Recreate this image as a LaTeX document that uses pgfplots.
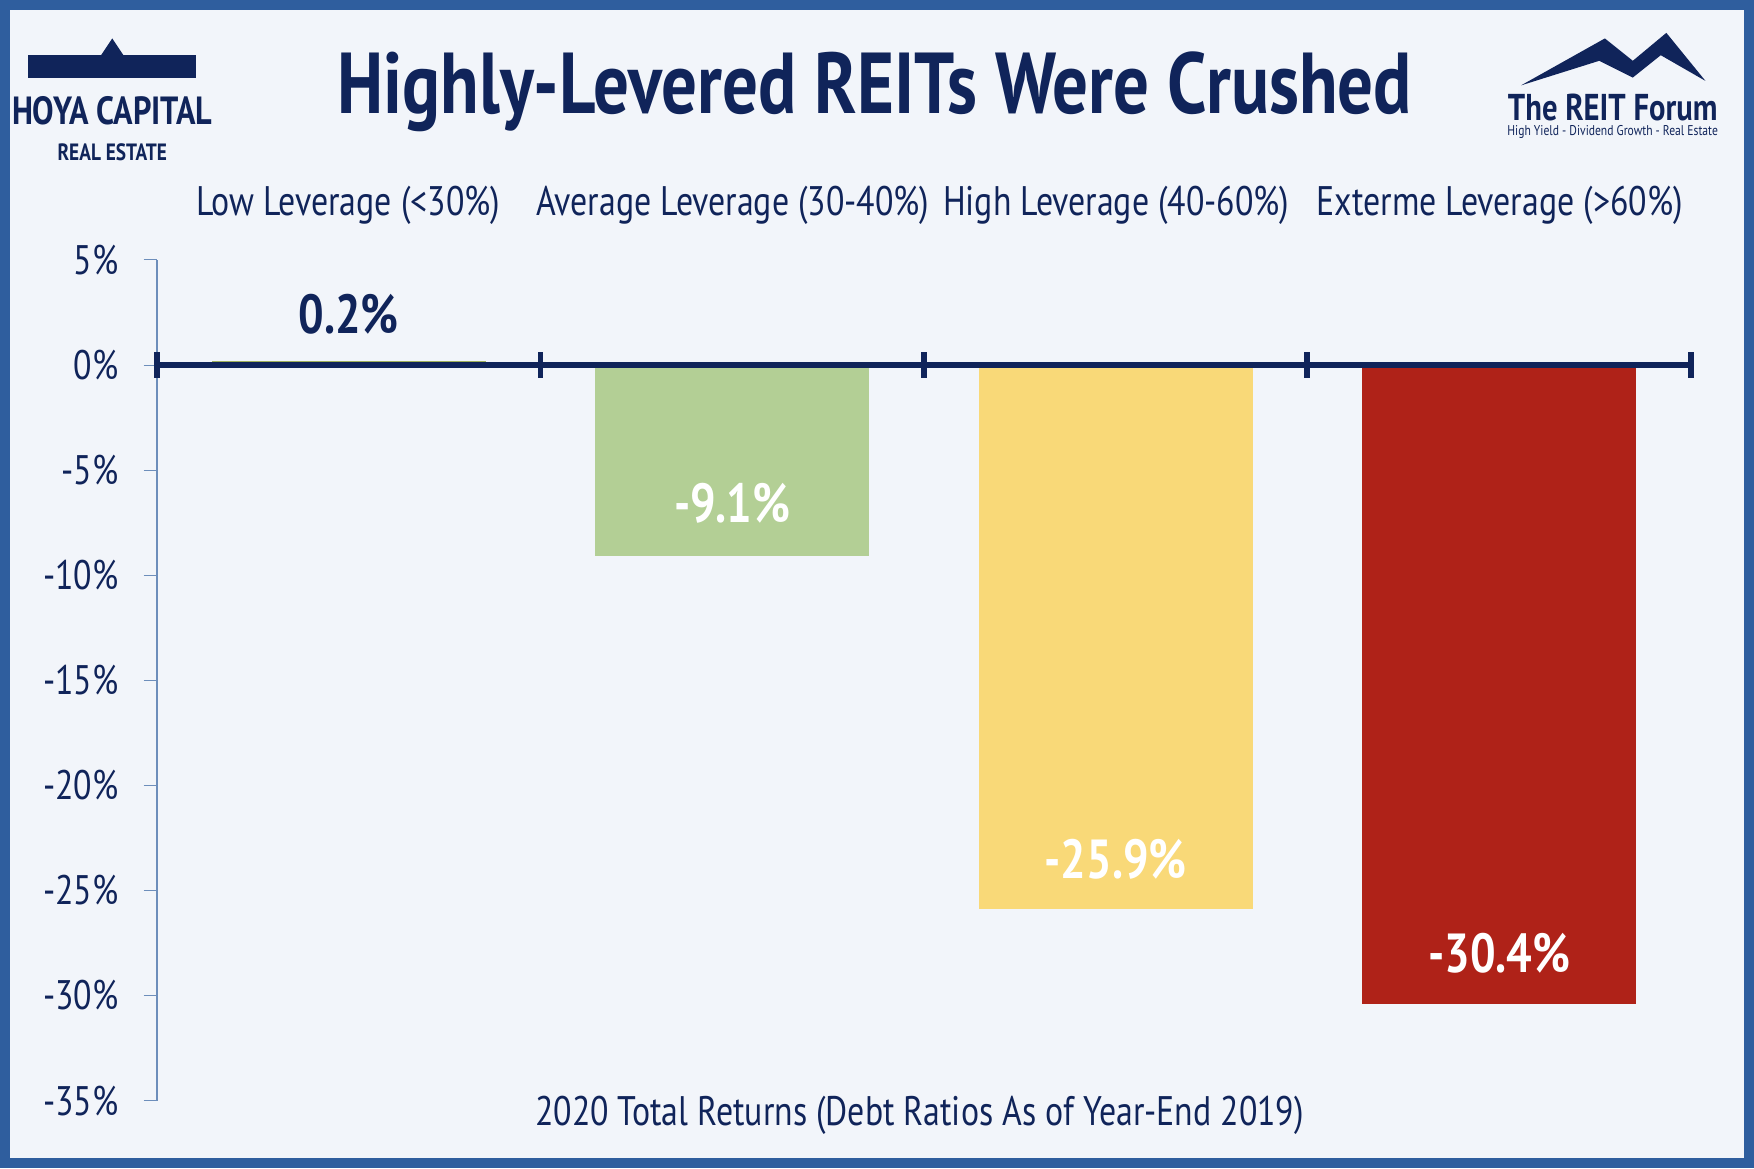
\documentclass[border=0pt]{standalone}
\usepackage{pgfplots}
\pgfplotsset{compat=1.18}
\usepackage{fontspec}
\setmainfont{PT Sans}[FakeStretch=0.82]
\definecolor{navy}{HTML}{10245A}
\definecolor{bg}{HTML}{F2F5FA}
\definecolor{frame}{HTML}{2F5E9E}
\definecolor{cgreen}{HTML}{B3CF95}
\definecolor{cyellow}{HTML}{F9D978}
\definecolor{cred}{HTML}{AF2218}
\begin{document}
\begin{tikzpicture}
\fill[bg] (0,0) rectangle (15.68,10.44);
\draw[frame,line width=2.5pt] (0.04,0.04) rectangle (15.64,10.40);
\begin{axis}[at={(1.40cm,0.60cm)},anchor=south west,
 scale only axis,width=13.72cm,height=7.52cm,
 xmin=0,xmax=4,ymin=-35,ymax=5,
 axis x line=none,axis y line*=left,
 y axis line style={draw=frame!70,-},
 ytick={-35,-30,...,5},
 yticklabel={\pgfmathprintnumber{\tick}\%},
 /pgf/number format/assume math mode=true,
 yticklabel style={font=\fontsize{10.5}{12}\selectfont,color=navy,xshift=-0.1cm},
 ytick style={draw=frame!70},tick align=outside,major tick length=0.12cm,
 clip=false]
\addplot[ybar,bar width=2.45cm,draw=none,fill=cgreen!60!olive] coordinates {(0.5,0.2)};
\addplot[ybar,bar width=2.45cm,draw=none,fill=cgreen] coordinates {(1.5,-9.1)};
\addplot[ybar,bar width=2.45cm,draw=none,fill=cyellow] coordinates {(2.5,-25.9)};
\addplot[ybar,bar width=2.45cm,draw=none,fill=cred] coordinates {(3.5,-30.4)};
\draw[navy,line width=1.5pt] (axis cs:0,0) -- (axis cs:4,0);
\pgfplotsinvokeforeach{0,1,2,3,4}{\draw[navy,line width=1.5pt] (axis cs:#1,-0.6) -- (axis cs:#1,0.6);}
\node[navy,font=\fontsize{14}{17}\selectfont\bfseries] at (axis cs:0.5,2.4) {0.2\%};
\node[white,font=\fontsize{14}{17}\selectfont\bfseries] at (axis cs:1.5,-6.6) {-9.1\%};
\node[white,font=\fontsize{14}{17}\selectfont\bfseries] at (axis cs:2.5,-23.5) {-25.9\%};
\node[white,font=\fontsize{14}{17}\selectfont\bfseries] at (axis cs:3.5,-28) {-30.4\%};
\end{axis}
\foreach \x/\t in {3.11/Low Leverage (<30\%),6.55/Average Leverage (30-40\%),9.98/High Leverage (40-60\%),13.41/Exterme Leverage (>60\%)}
 \node[navy,font=\fontsize{10.5}{12}\selectfont] at (\x,8.61) {\t};
\node[navy,font=\fontsize{10.5}{12}\selectfont] at (8.22,0.47) {2020 Total Returns (Debt Ratios As of Year-End 2019)};
\node[navy,font=\fontsize{22}{26}\selectfont\bfseries] at (7.82,9.62) {Highly-Levered REITs Were Crushed};
% logos
\fill[navy] (0.25,9.75) rectangle (1.75,9.95);
\fill[navy] (0.9,9.95) -- (1.0,10.1) -- (1.1,9.95) -- cycle;
\node[navy,font=\fontsize{10}{12}\selectfont\bfseries,inner sep=0] at (1.0,9.45) {HOYA CAPITAL};
\node[navy,font=\fontsize{6}{7}\selectfont\bfseries,inner sep=0] at (1.0,9.08) {REAL ESTATE};
\fill[navy] (13.6,9.68) -- (14.35,10.1) -- (14.6,9.9) -- (14.9,10.15) -- (15.25,9.72) -- (14.85,9.95) -- (14.6,9.75) -- (14.3,9.9) -- cycle;
\node[navy,font=\fontsize{9.5}{11}\selectfont\bfseries] at (14.42,9.48) {The REIT Forum};
\node[navy,font=\fontsize{3.6}{4}\selectfont] at (14.42,9.26) {High Yield - Dividend Growth - Real Estate};
\end{tikzpicture}
\end{document}
